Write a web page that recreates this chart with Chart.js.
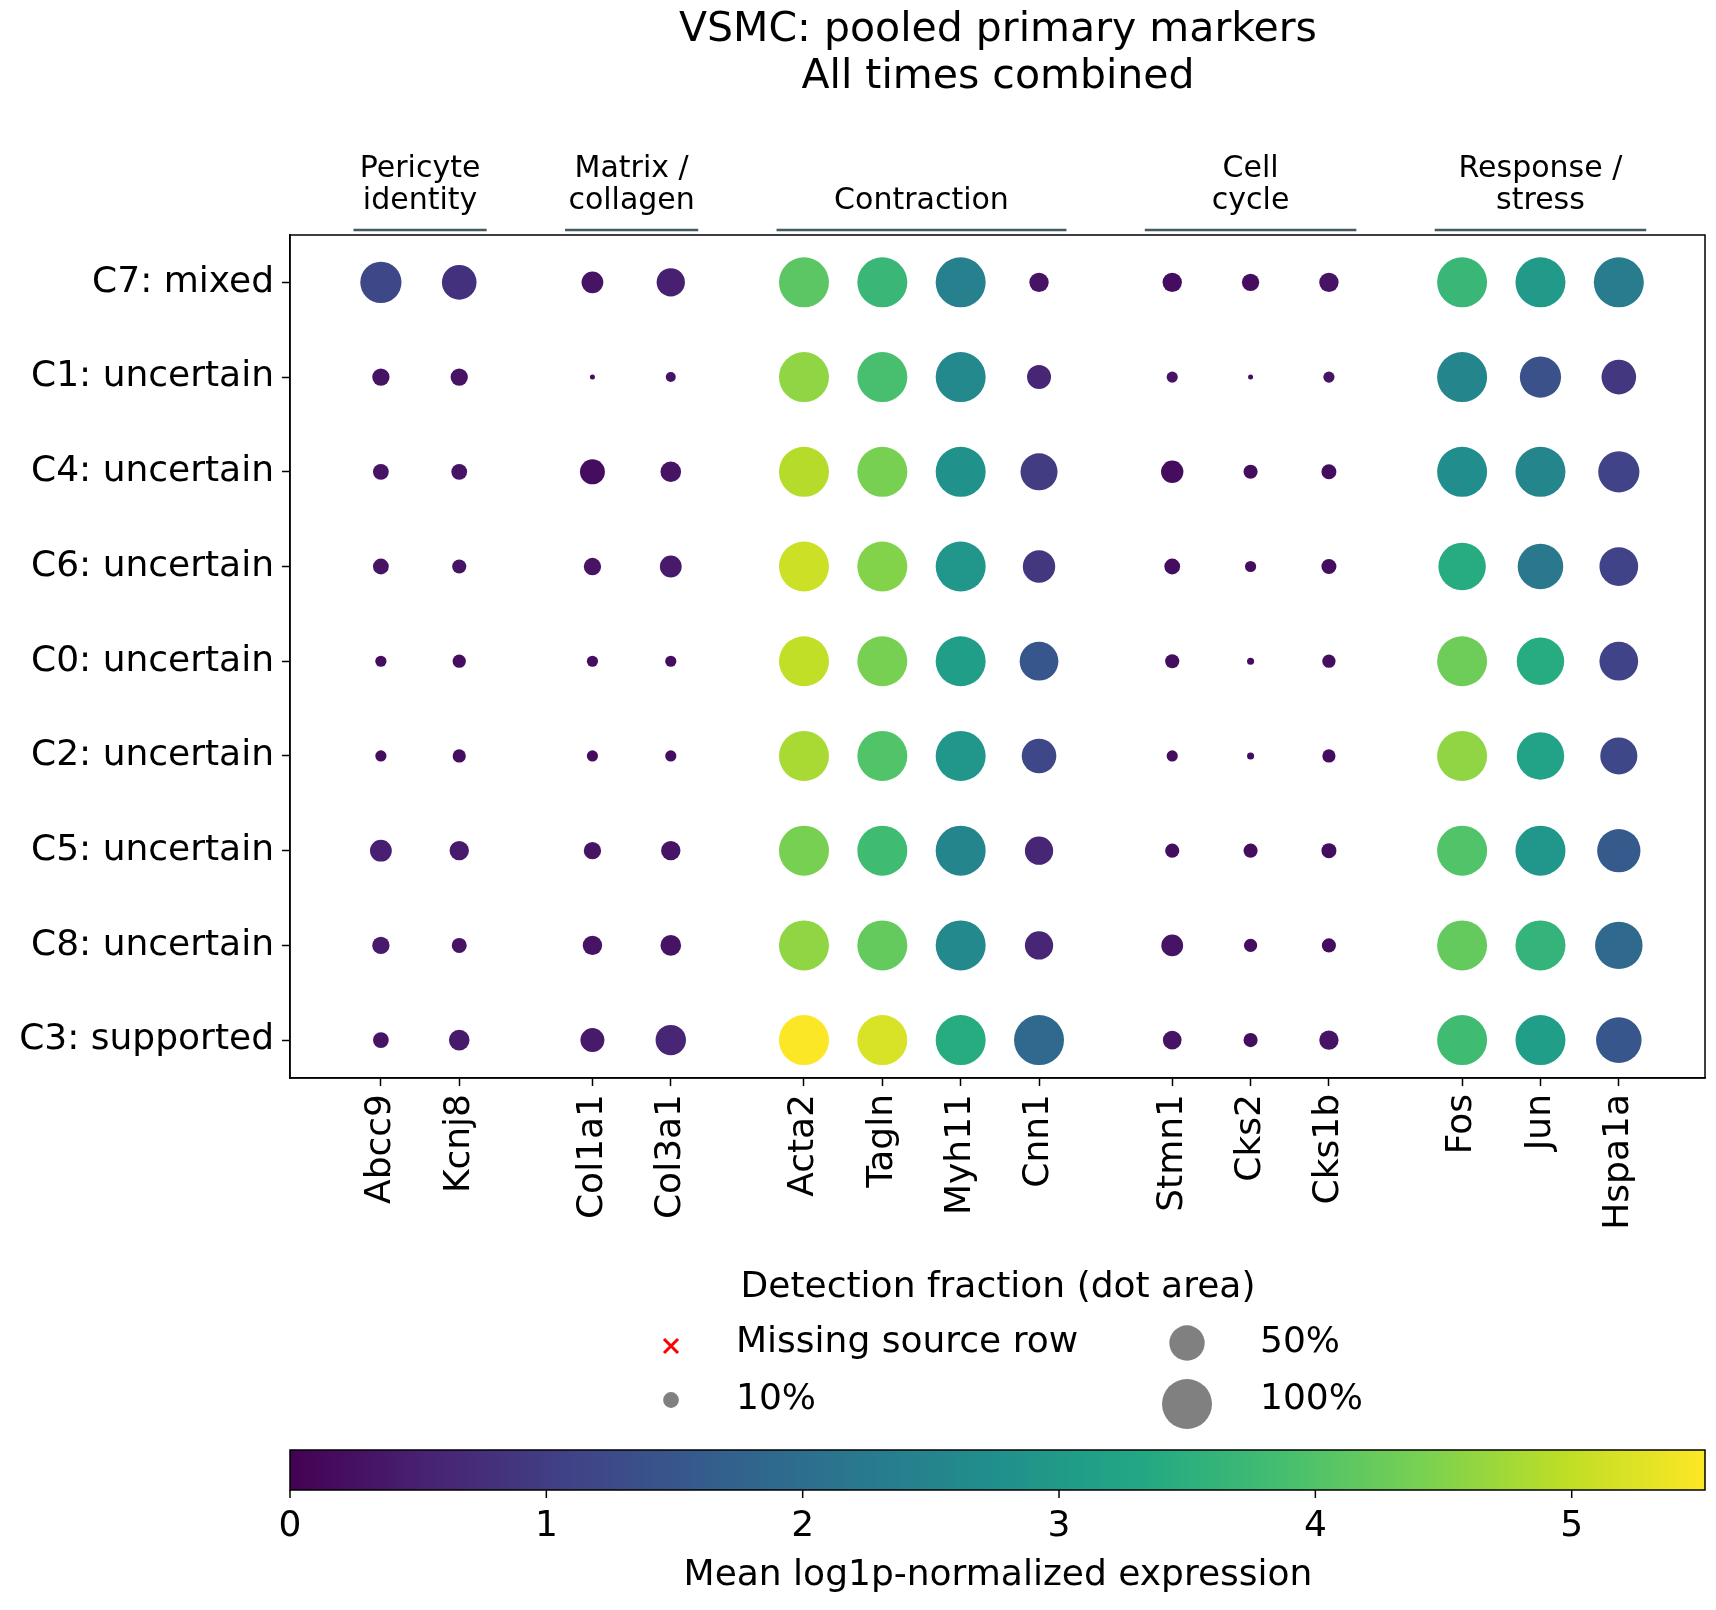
<!DOCTYPE html>
<html><head><meta charset="utf-8">
<script src="https://cdn.jsdelivr.net/npm/chart.js@4"></script>
<style>html,body{margin:0;padding:0;background:#fff;overflow:hidden}#w{width:1730px;height:1610px}</style>
</head><body><div id="w"><canvas id="c"></canvas></div>
<script>
const genes = ["Abcc9","Kcnj8","Col1a1","Col3a1","Acta2","Tagln","Myh11","Cnn1","Stmn1","Cks2","Cks1b","Fos","Jun","Hspa1a"];
const genePos = [0,1,2.7,3.7,5.4,6.4,7.4,8.4,10.1,11.1,12.1,13.8,14.8,15.8];
const clusters = ["C7: mixed","C1: uncertain","C4: uncertain","C6: uncertain","C0: uncertain","C2: uncertain","C5: uncertain","C8: uncertain","C3: supported"];
const groups = [["Pericyte","identity"],["Matrix /","collagen"],["Contraction"],["Cell","cycle"],["Response /","stress"]];
const groupSpan = [[-0.35,1.35],[2.35,4.05],[5.05,8.75],[9.75,12.45],[13.45,16.15]];
const fracC7=[0.68,0.48,0.19,0.32,1,1,1,0.15,0.15,0.12,0.15,1,1,1];
const meanC7=[1.2,0.8,0.3,0.5,4.1,3.7,2.4,0.3,0.2,0.2,0.3,3.7,3.0,2.3];
const fracC1=[0.12,0.12,0.01,0.04,1,1,1,0.23,0.05,0.01,0.05,1,0.68,0.48];
const meanC1=[0.3,0.3,0.2,0.3,4.6,3.9,2.6,0.6,0.3,0.2,0.3,2.5,1.4,0.9];
const fracC4=[0.1,0.1,0.25,0.17,1,1,1,0.55,0.2,0.08,0.09,1,1,0.68];
const meanC4=[0.3,0.3,0.2,0.3,4.9,4.4,2.8,1.0,0.2,0.2,0.2,2.7,2.5,1.1];
const fracC6=[0.1,0.08,0.12,0.19,1,1,1,0.42,0.1,0.05,0.09,0.9,0.83,0.6];
const meanC6=[0.3,0.3,0.3,0.4,5.1,4.5,2.9,0.9,0.2,0.2,0.2,3.4,2.2,1.1];
const fracC0=[0.05,0.07,0.05,0.05,1,1,1,0.6,0.08,0.02,0.07,1,0.9,0.6];
const meanC0=[0.2,0.2,0.2,0.2,5.0,4.4,3.1,1.5,0.2,0.2,0.2,4.3,3.4,1.1];
const fracC2=[0.05,0.07,0.05,0.05,1,1,1,0.48,0.05,0.02,0.07,1,0.9,0.55];
const meanC2=[0.2,0.2,0.2,0.2,4.8,4.0,2.9,1.2,0.2,0.2,0.2,4.6,3.2,1.2];
const fracC5=[0.19,0.15,0.12,0.15,1,1,1,0.32,0.08,0.08,0.09,1,1,0.75];
const meanC5=[0.5,0.4,0.3,0.3,4.4,3.8,2.5,0.6,0.2,0.2,0.2,4.0,2.9,1.6];
const fracC8=[0.12,0.09,0.15,0.17,1,1,1,0.32,0.19,0.07,0.08,1,1,0.9];
const meanC8=[0.4,0.3,0.3,0.3,4.6,4.2,2.6,0.6,0.3,0.2,0.2,4.2,3.6,1.9];
const fracC3=[0.1,0.17,0.23,0.37,1,1,1,1,0.14,0.08,0.15,1,1,0.83];
const meanC3=[0.3,0.4,0.4,0.6,5.5,5.2,3.4,1.9,0.3,0.2,0.3,3.8,3.1,1.5];
const fracs=[fracC7,fracC1,fracC4,fracC6,fracC0,fracC2,fracC5,fracC8,fracC3];
const means=[meanC7,meanC1,meanC4,meanC6,meanC0,meanC2,meanC5,meanC8,meanC3];
const cbTicks=[0,1,2,3,4,5];
const VMAX=5.52, RMAX=25;
const vir=[[68,1,84],[72,35,116],[64,67,135],[52,94,141],[41,120,142],[32,144,140],[34,167,132],[68,190,112],[121,209,81],[189,222,38],[253,231,37]];
function viridis(t){t=Math.max(0,Math.min(1,t))*(vir.length-1);const i=Math.min(Math.floor(t),vir.length-2),f=t-i;
 const c=vir[i].map((v,k)=>Math.round(v+(vir[i+1][k]-v)*f));return `rgb(${c[0]},${c[1]},${c[2]})`;}
const pts=[];
clusters.forEach((c,r)=>genes.forEach((g,j)=>pts.push({x:genePos[j],y:r,f:fracs[r][j],m:means[r][j]})));
const F='"DejaVu Sans"';
const deco={id:'deco',afterDraw(ch){
 const ctx=ch.ctx,xs=ch.scales.x,ca=ch.chartArea;ctx.save();
 ctx.strokeStyle='#000';ctx.lineWidth=1.5;ctx.strokeRect(ca.left,ca.top,ca.right-ca.left,ca.bottom-ca.top);
 ctx.fillStyle='#000';ctx.textAlign='center';
 ctx.font='41px '+F;ctx.textBaseline='middle';
 ctx.fillText('VSMC: pooled primary markers',998,30);ctx.fillText('All times combined',998,77);
 groups.forEach((g,i)=>{const a=xs.getPixelForValue(groupSpan[i][0]),b=xs.getPixelForValue(groupSpan[i][1]);
  ctx.strokeStyle='#465a64';ctx.lineWidth=2.5;ctx.beginPath();ctx.moveTo(a,230);ctx.lineTo(b,230);ctx.stroke();
  ctx.font='30px '+F;ctx.fillStyle='#000';
  if(g.length===2){ctx.fillText(g[0],(a+b)/2,169);ctx.fillText(g[1],(a+b)/2,201);}else ctx.fillText(g[0],(a+b)/2,201);});
 ctx.font='36px '+F;ctx.fillText('Detection fraction (dot area)',998,1288);
 ctx.textAlign='left';
 ctx.strokeStyle='red';ctx.lineWidth=3;ctx.beginPath();ctx.moveTo(664,1339);ctx.lineTo(678,1353);ctx.moveTo(678,1339);ctx.lineTo(664,1353);ctx.stroke();
 ctx.fillText('Missing source row',736,1343);ctx.fillText('10%',736,1400);ctx.fillText('50%',1260,1343);ctx.fillText('100%',1260,1400);
 ctx.fillStyle='#808080';
 [[671,1400,0.1],[1187,1343,0.5],[1187,1404,1]].forEach(([x,y,f])=>{ctx.beginPath();ctx.arc(x,y,RMAX*Math.sqrt(f),0,7);ctx.fill();});
 const x0=ca.left,x1=ca.right,y0=1450,y1=1490;
 const gr=ctx.createLinearGradient(x0,0,x1,0);vir.forEach((c,i)=>gr.addColorStop(i/(vir.length-1),`rgb(${c})`));
 ctx.fillStyle=gr;ctx.fillRect(x0,y0,x1-x0,y1-y0);ctx.strokeStyle='#000';ctx.lineWidth=1.5;ctx.strokeRect(x0,y0,x1-x0,y1-y0);
 ctx.fillStyle='#000';ctx.textAlign='center';ctx.textBaseline='middle';
 cbTicks.forEach(t=>{const x=x0+(x1-x0)*t/VMAX;ctx.beginPath();ctx.moveTo(x,y1);ctx.lineTo(x,y1+8);ctx.stroke();ctx.fillText(String(t),x,1527);});
 ctx.fillText('Mean log1p-normalized expression',998,1576);
 ctx.restore();}};
new Chart(document.getElementById('c'),{type:'scatter',
 data:{datasets:[{data:pts,pointRadius:c=>RMAX*Math.sqrt(c.raw.f),pointHoverRadius:c=>RMAX*Math.sqrt(c.raw.f),
  backgroundColor:c=>viridis(c.raw.m/VMAX),borderWidth:0}]},
 options:{responsive:true,maintainAspectRatio:false,animation:false,devicePixelRatio:1,
  layout:{padding:{top:235,right:11,left:0,bottom:0}},
  plugins:{legend:{display:false},tooltip:{enabled:false}},
  scales:{
   x:{type:'linear',min:-1.16,max:16.9,border:{color:'#000',width:1.5},
    afterBuildTicks:a=>{a.ticks=genePos.map(v=>({value:v}));},
    afterFit:a=>{a.height=532;a.paddingLeft=0;a.paddingRight=0;},
    ticks:{callback:(v,i)=>genes[i],maxRotation:90,minRotation:90,autoSkip:false,color:'#000',font:{family:'DejaVu Sans',size:36},padding:8},
    grid:{display:true,drawOnChartArea:false,tickLength:8,color:'#000',tickWidth:1.5}},
   y:{type:'linear',min:-0.5,max:8.4,reverse:true,border:{color:'#000',width:1.5},
    afterBuildTicks:a=>{a.ticks=clusters.map((c,i)=>({value:i}));},
    afterFit:a=>{a.width=290;a.paddingTop=0;a.paddingBottom=0;},
    ticks:{callback:(v)=>clusters[v],autoSkip:false,color:'#000',font:{family:'DejaVu Sans',size:36},padding:8},
    grid:{display:true,drawOnChartArea:false,tickLength:8,color:'#000',tickWidth:1.5}}}},
 plugins:[deco]});
</script></body></html>
